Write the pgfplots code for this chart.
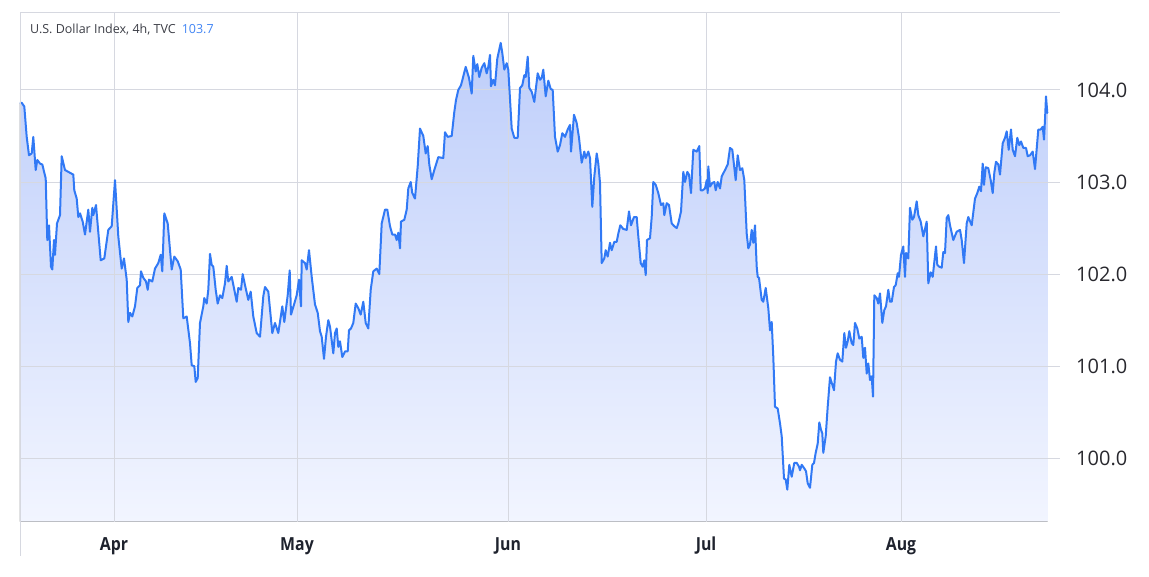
\documentclass[border=0pt]{standalone}
\usepackage{pgfplots}
\pgfplotsset{compat=1.18}
\usepackage{pgfplotstable}
\usepgfplotslibrary{fillbetween}
\usepackage{fontspec}
\setmainfont{Open Sans}
\newfontfamily\monthfont[FakeStretch=0.88]{Open Sans}
\definecolor{dxyline}{RGB}{49,121,245}
\definecolor{gridc}{RGB}{214,216,224}
\definecolor{fillTop}{RGB}{190,206,250}
\definecolor{fillBot}{RGB}{242,245,255}
\definecolor{monthc}{RGB}{30,34,45}
\definecolor{tickc}{RGB}{40,40,46}
\definecolor{titlec}{RGB}{60,62,70}
\definecolor{valc}{RGB}{66,133,244}

\pgfplotstableread{
x y
20 103.86
21.7 103.86
24.3 103.82
26.7 103.49
29 103.29
31.7 103.31
33.3 103.49
35.7 103.13
37.3 103.24
40 103.20
42.3 103.19
45.7 103.04
47.3 102.37
49 102.53
51 102.08
52.3 102.05
54 102.37
55 102.21
57 102.55
60 102.64
61.7 103.28
65 103.13
70 103.10
73.3 103.08
74.3 102.91
76.7 102.82
78.3 102.62
80 102.66
82.7 102.57
85 102.43
88.3 102.70
90 102.46
92.3 102.72
93.3 102.64
96 102.75
100.7 102.15
104.3 102.17
108.3 102.48
111.7 102.52
115 103.02
118.3 102.41
121.7 102.06
124 102.17
126.7 101.94
128.3 101.48
130 101.58
132.3 101.54
135 101.65
137.3 101.85
140 101.88
141 102.03
143.3 101.96
146 101.92
147.7 101.83
149 101.94
152.3 101.92
155 102.06
158.3 102.12
160.7 102.21
162.3 102.03
164.3 102.66
167.7 102.55
169.3 102.35
171.7 102.05
174.3 102.19
177.7 102.14
180.7 102.05
183.3 101.52
186.7 101.54
190 101.25
191.7 101.01
194.3 101.00
195.7 100.83
197.7 100.87
200 101.47
203.3 101.65
204.3 101.74
206.7 101.68
208.3 101.83
210 102.22
211.7 102.10
213.3 102.08
215.7 101.83
217.7 101.68
220 101.77
222.3 101.74
225 101.90
226.7 102.09
228.3 101.92
231.7 101.97
234.3 101.83
236.7 101.70
238.3 101.85
241 101.83
242.7 102.00
245 101.88
248.3 101.72
250.7 101.81
253.3 101.54
256.7 101.36
260 101.32
263.3 101.76
265 101.86
268.3 101.81
272.3 101.36
275 101.47
278.3 101.36
282.3 101.65
284.3 101.48
287.7 101.77
289.7 102.04
291 101.56
294.3 101.68
296.7 101.77
299 101.94
301 101.65
301.7 102.15
305 102.12
306.7 102.05
309 102.26
311.7 101.97
315 101.67
317.7 101.58
320 101.38
321.7 101.32
324 101.08
326 101.32
328.3 101.50
330 101.43
333.3 101.14
335 101.36
336.7 101.41
338.3 101.21
340 101.27
342.3 101.10
345 101.16
347.7 101.16
349 101.39
351 101.41
353.3 101.47
355.7 101.68
358.3 101.63
360.7 101.56
363.3 101.70
365.7 101.47
368.3 101.41
370.7 101.83
373.3 102.03
376.7 102.06
379.3 102.00
381.7 102.55
385 102.70
387.3 102.70
390 102.52
392.3 102.43
395 102.43
396.7 102.37
398.3 102.45
400 102.28
401 102.57
404.3 102.59
406.7 102.70
408.3 102.93
410.7 103.00
412.3 102.88
415 102.82
417.7 103.17
420 103.58
423.3 103.50
425.7 103.31
427.7 103.39
429.3 103.19
431.7 103.03
434.3 103.13
438.3 103.27
443.3 103.26
445 103.54
447.7 103.49
451.7 103.50
454.3 103.76
456 103.89
458.3 104.00
461 104.05
465.7 104.25
469 104.13
471.7 103.96
473.3 104.37
475.7 104.20
477.3 104.28
479.3 104.14
481.7 104.24
484.3 104.29
486.7 104.18
488.3 104.25
490 104.38
491 104.04
493.3 104.11
495 104.05
497.3 104.34
500.7 104.51
502.3 104.40
504.3 104.22
506.7 104.29
508.3 104.22
511.7 103.58
514.3 103.48
517.7 103.48
520 104.02
522.3 104.05
524.3 104.16
525.7 104.14
527.7 104.36
529.3 104.02
531.7 103.98
534.3 103.87
537.7 104.18
540 104.11
541.7 104.13
543.3 104.22
545.7 103.93
548.3 104.10
550.7 104.01
552.7 104.00
555 103.49
557.7 103.33
560 103.40
562.3 103.53
565 103.49
567.7 103.57
570 103.62
571 103.33
574 103.73
576.7 103.64
579 103.48
581.7 103.21
584.3 103.33
585.7 103.26
588.3 103.33
590 103.26
592.3 102.73
594.3 103.06
596.7 103.31
598.3 103.20
600 102.99
601.7 102.12
604.3 102.17
605.7 102.26
607.7 102.19
610 102.34
611.7 102.26
614.3 102.35
616.7 102.35
618.3 102.44
620.3 102.53
623.3 102.49
626.7 102.48
629 102.68
631 102.53
634 102.62
636.7 102.62
638.3 102.41
640.7 102.12
642.7 102.08
644.3 102.15
645.7 101.99
647 102.37
650 102.39
651.7 102.62
653.3 103.00
655.7 102.97
658.3 102.88
661 102.75
663.3 102.77
664.3 102.64
666.7 102.77
669 102.75
671.7 102.55
674.3 102.52
676.7 102.50
678.3 102.55
681 102.68
683.3 103.11
685 103.00
687.3 103.11
689 103.08
691 102.88
693.3 103.35
696.7 103.33
699.3 103.39
700.7 102.91
702.7 102.91
705 102.93
706.7 103.02
707.7 102.88
708.3 103.17
710 102.95
712.3 102.99
714.3 103.00
715.7 102.91
717.7 103.00
720 102.93
721.7 103.06
725 103.13
727.7 103.19
730 103.37
732.3 103.35
735.7 103.02
737.7 103.29
740 103.13
742.3 103.15
744.3 103.02
746.7 102.44
748.3 102.28
750 102.32
751.7 102.48
753.3 102.34
755 102.53
756.7 102.08
757.7 101.97
759 101.96
761.7 101.72
763.3 101.70
765.7 101.85
768.3 101.63
770 101.39
771.7 101.48
773.3 101.10
775 100.56
777.7 100.54
780 100.38
781.7 100.24
784 99.78
785.7 99.77
787.3 99.66
789.3 99.93
791.7 99.80
794.3 99.95
796.7 99.95
799 99.91
800 99.87
801.7 99.93
804.3 99.89
806 99.86
807.7 99.73
810 99.68
812.3 99.93
814 99.95
815.7 100.06
817.7 100.16
819.3 100.39
821 100.31
822.3 100.27
823.3 100.06
825.7 100.24
827.7 100.56
830 100.88
831.7 100.82
834 100.74
836 101.05
837.7 101.14
840 101.07
842.3 101.05
844.3 101.36
846 101.20
847.7 101.27
849.3 101.38
851.7 101.25
853.3 101.23
855 101.47
857.3 101.41
859.3 101.30
861.7 101.32
863.3 101.09
865 101.20
866.7 100.92
868.3 101.03
870 100.85
871.7 100.89
873 100.67
874.3 101.77
876.7 101.74
878.3 101.68
880 101.79
882.3 101.47
884.3 101.61
886 101.65
888.3 101.83
890 101.70
891.7 101.70
894 101.86
895.7 101.88
897.7 102.01
899 101.97
901 102.21
903.3 102.30
905 101.97
906 102.23
908.3 102.17
910 102.72
912.3 102.59
914 102.62
916.7 102.79
918.3 102.64
920.7 102.57
923.3 102.41
926.7 102.57
928.3 101.90
930.7 102.02
932.7 101.97
936 102.30
937.3 102.10
939.3 102.08
941.7 102.07
943.3 102.24
945 102.23
946.7 102.61
948.3 102.64
950 102.53
953.3 102.37
956.7 102.46
960 102.48
961.7 102.37
964 102.12
966.7 102.55
968.3 102.62
971.7 102.53
975 102.82
977.3 102.88
979.3 102.95
981 102.90
982.7 103.20
984 102.97
985.7 103.16
988.3 103.15
990.7 103.02
992.7 102.88
994.3 103.10
996 103.22
998.3 103.19
1000 103.08
1002.7 103.42
1005 103.48
1006.7 103.55
1008.7 103.35
1011 103.57
1012.7 103.35
1015 103.28
1017.3 103.48
1019.3 103.40
1021 103.44
1023.3 103.37
1026 103.37
1027.7 103.28
1030 103.29
1032.7 103.33
1035 103.14
1038.3 103.57
1040.7 103.57
1042.7 103.60
1044 103.46
1045.3 103.75
1046 103.93
1047.3 103.75
}\dxy

\begin{document}
\begin{tikzpicture}
\begin{axis}[
  at={(0,0)}, anchor=south west,
  set layers,
  fill between/on layer=axis background,
  scale only axis, width=1040pt, height=509.3pt,
  xmin=20, xmax=1060, ymin=99.312, ymax=104.8415,
  axis line style={draw=none},
  major tick length=0pt,
  tick style={draw=none},
  grid=major, grid style={color=gridc, line width=0.8pt},
  xtick={114,297,508,706,901},
  xticklabels={Apr,May,Jun,Jul,Aug},
  xticklabel style={font=\monthfont\bfseries\fontsize{18}{18}\selectfont, text=monthc, anchor=base, inner sep=0pt, yshift=-29pt},
  ytick={100,101,102,103,104},
  yticklabels={100.0,101.0,102.0,103.0,104.0},
  yticklabel pos=right,
  yticklabel style={font=\fontsize{20}{20}\selectfont, text=tickc, anchor=west, inner sep=0pt, xshift=16pt},
  /pgf/number format/assume math mode=true,
]
\addplot[draw=none, name path=A, forget plot] table[x=x,y=y]{\dxy};
\path[name path=B] (axis cs:20,99.312) -- (axis cs:1047.3,99.312);
\addplot[draw=none, top color=fillTop, bottom color=fillBot] fill between[of=A and B];
\addplot[color=dxyline, line width=2pt, line join=round, line cap=round] table[x=x,y=y]{\dxy};
\end{axis}
\draw[gridc, line width=0.8pt] (0,-34.3pt) -- (0,509.3pt) -- (1040pt,509.3pt);
\node[anchor=base west, inner sep=0pt, font=\fontsize{12.5}{13}\selectfont] at (10pt,488.2pt)
  {\textcolor{titlec}{U.S. Dollar Index, 4h, TVC}\hspace{6pt}\textcolor{valc}{103.7}};
\path (-20pt,-55.3pt) rectangle (1129pt,521.7pt);
\end{tikzpicture}
\end{document}
